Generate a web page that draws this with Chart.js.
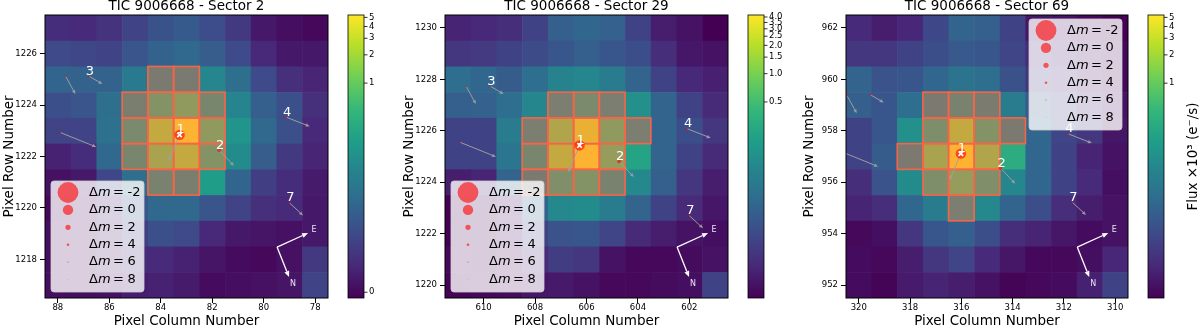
<!DOCTYPE html>
<html lang="en">
<head>
<meta charset="UTF-8">
<title>TIC 9006668 - target pixel files</title>
<script src="https://cdn.jsdelivr.net/npm/chart.js"></script>
<style>
  body { margin: 0; background: #fff; }
  .wrap { position: relative; width: 1200px; height: 327px; }
  canvas { position: absolute; top: 0; }
</style>
</head>
<body>
<div class="wrap">
  <canvas id="s2" width="400" height="327" style="left:0"></canvas>
  <canvas id="s29" width="400" height="327" style="left:400px"></canvas>
  <canvas id="s69" width="400" height="327" style="left:800px"></canvas>
</div>
<script>
// ---- Sector 2 (flux in 10^3 e-/s, rows top to bottom, columns left to right)
const s2Cols = [88, 87, 86, 85, 84, 83, 82, 81, 80, 79, 78];
const s2Rows = [1227, 1226, 1225, 1224, 1223, 1222, 1221, 1220, 1219, 1218, 1217];
const s2Flux = [
  [0.0068, 0.0060, 0.0086, 0.0158, 0.0245, 0.0314, 0.0207, 0.0107, 0.0022, 0.0008, 0.0000],
  [0.0189, 0.0173, 0.0158, 0.0267, 0.0398, 0.0465, 0.0340, 0.0189, 0.0053, 0.0022, 0.0022],
  [0.0430, 0.0398, 0.0398, 0.0848, 0.1310, 0.1310, 0.1220, 0.0583, 0.0189, 0.0077, 0.0046],
  [0.0225, 0.0267, 0.0583, 0.1620, 0.4670, 0.6620, 0.2320, 0.1130, 0.0368, 0.0225, 0.0077],
  [0.0158, 0.0158, 0.0631, 0.2860, 1.8800, 5.2000, 0.6620, 0.1870, 0.0465, 0.0225, 0.0053],
  [0.0039, 0.0068, 0.0465, 0.2320, 1.1600, 1.8800, 0.4670, 0.1400, 0.0340, 0.0107, 0.0046],
  [0.0012, 0.0022, 0.0173, 0.0583, 0.1870, 0.1620, 0.2320, 0.0430, 0.0131, 0.0068, 0.0027],
  [0.0000, 0.0008, 0.0046, 0.0289, 0.0465, 0.0465, 0.0267, 0.0158, 0.0077, 0.0060, 0.0022],
  [0.0008, 0.0004, 0.0027, 0.0131, 0.0225, 0.0189, 0.0053, 0.0022, 0.0017, 0.0012, 0.0022],
  [0.0008, 0.0008, 0.0027, 0.0068, 0.0060, 0.0039, 0.0017, 0.0004, 0.0000, 0.0012, 0.0107],
  [0.0008, 0.0008, 0.0012, 0.0033, 0.0039, 0.0027, 0.0004, 0.0008, 0.0012, 0.0017, 0.0158]
];
const s2Aperture = [[84, 1225], [83, 1225], [85, 1224], [84, 1224], [83, 1224], [82, 1224],
  [85, 1223], [84, 1223], [83, 1223], [82, 1223], [85, 1222], [84, 1222], [83, 1222], [82, 1222],
  [84, 1221], [83, 1221]];
const s2StarCol = [83.27, 81.73, 86.79, 87.70, 87.90, 79.13, 79.00];
const s2StarRow = [1222.84, 1222.25, 1225.12, 1225.12, 1222.93, 1223.53, 1220.20];
const s2StarName = ['1', '2', '3', '', '', '4', '7'];
const s2CbTicks = [0, 1, 2, 3, 4, 5];

// ---- Sector 29
const s29Cols = [611, 610, 609, 608, 607, 606, 605, 604, 603, 602, 601];
const s29Rows = [1230, 1229, 1228, 1227, 1226, 1225, 1224, 1223, 1222, 1221, 1220];
const s29Flux = [
  [0.0052, 0.0058, 0.0071, 0.0135, 0.0301, 0.0378, 0.0325, 0.0135, 0.0041, 0.0027, 0.0010],
  [0.0095, 0.0104, 0.0135, 0.0174, 0.0239, 0.0301, 0.0239, 0.0189, 0.0071, 0.0032, 0.0027],
  [0.0472, 0.0378, 0.0279, 0.0472, 0.0909, 0.0976, 0.0732, 0.0351, 0.0135, 0.0058, 0.0046],
  [0.0301, 0.0325, 0.0472, 0.0976, 0.1295, 0.2278, 0.1295, 0.1295, 0.0351, 0.0135, 0.0064],
  [0.0135, 0.0135, 0.0732, 0.1295, 1.0520, 2.9700, 0.5256, 0.1295, 0.0351, 0.0189, 0.0095],
  [0.0135, 0.0135, 0.0590, 0.1845, 1.4870, 4.2000, 0.6037, 0.2278, 0.0351, 0.0135, 0.0064],
  [0.0041, 0.0052, 0.0351, 0.1047, 0.3009, 0.3700, 0.1493, 0.1047, 0.0301, 0.0095, 0.0041],
  [0.0010, 0.0013, 0.0032, 0.0351, 0.1047, 0.1123, 0.0732, 0.0351, 0.0135, 0.0064, 0.0032],
  [0.0010, 0.0010, 0.0027, 0.0135, 0.0221, 0.0239, 0.0147, 0.0064, 0.0041, 0.0027, 0.0023],
  [0.0016, 0.0013, 0.0020, 0.0064, 0.0114, 0.0095, 0.0027, 0.0016, 0.0016, 0.0020, 0.0027],
  [0.0013, 0.0016, 0.0020, 0.0032, 0.0036, 0.0027, 0.0016, 0.0016, 0.0020, 0.0023, 0.0135]
];
const s29Aperture = [[607, 1227], [606, 1227], [605, 1227], [608, 1226], [607, 1226], [606, 1226],
  [605, 1226], [604, 1226], [608, 1225], [607, 1225], [606, 1225], [605, 1225],
  [608, 1224], [607, 1224], [606, 1224], [605, 1224]];
const s29StarCol = [606.27, 604.73, 609.74, 610.68, 610.91, 602.09, 602.00];
const s29StarRow = [1225.43, 1224.81, 1227.73, 1227.73, 1225.55, 1226.08, 1222.70];
const s29StarName = ['1', '2', '3', '', '', '4', '7'];
const s29CbTicks = [0.5, 1.0, 1.5, 2.0, 2.5, 3.0, 3.5, 4.0];

// ---- Sector 69
const s69Cols = [320, 319, 318, 317, 316, 315, 314, 313, 312, 311, 310];
const s69Rows = [962, 961, 960, 959, 958, 957, 956, 955, 954, 953, 952];
const s69Flux = [
  [0.0078, 0.0049, 0.0070, 0.0199, 0.0440, 0.0378, 0.0168, 0.0037, 0.0032, 0.0018, 0.0010],
  [0.0117, 0.0117, 0.0168, 0.0235, 0.0324, 0.0299, 0.0183, 0.0078, 0.0049, 0.0027, 0.0018],
  [0.0440, 0.0277, 0.0299, 0.0475, 0.0688, 0.0593, 0.0255, 0.0117, 0.0078, 0.0037, 0.0018],
  [0.0378, 0.0299, 0.0593, 0.1320, 0.1880, 0.1410, 0.0922, 0.0324, 0.0168, 0.0063, 0.0032],
  [0.0168, 0.0299, 0.1630, 0.3300, 1.8800, 0.4680, 0.1320, 0.0475, 0.0183, 0.0117, 0.0037],
  [0.0168, 0.0350, 0.1320, 1.1570, 5.3000, 1.3270, 0.3790, 0.0475, 0.0168, 0.0063, 0.0032],
  [0.0087, 0.0277, 0.1410, 0.3300, 0.7620, 0.3790, 0.1230, 0.0475, 0.0168, 0.0078, 0.0027],
  [0.0063, 0.0087, 0.0475, 0.0922, 0.1630, 0.1320, 0.0440, 0.0235, 0.0087, 0.0049, 0.0032],
  [0.0018, 0.0027, 0.0117, 0.0299, 0.0378, 0.0235, 0.0087, 0.0063, 0.0037, 0.0022, 0.0032],
  [0.0022, 0.0018, 0.0049, 0.0117, 0.0183, 0.0078, 0.0037, 0.0018, 0.0018, 0.0027, 0.0070],
  [0.0022, 0.0014, 0.0043, 0.0063, 0.0049, 0.0032, 0.0014, 0.0018, 0.0022, 0.0056, 0.0168]
];
const s69Aperture = [[317, 959], [316, 959], [315, 959], [317, 958], [316, 958], [315, 958], [314, 958],
  [318, 957], [317, 957], [316, 957], [315, 957], [317, 956], [316, 956], [315, 956], [316, 955]];
const s69StarCol = [316.02, 314.47, 319.55, 320.46, 320.64, 311.83, 311.67];
const s69StarRow = [957.11, 956.55, 959.40, 959.37, 957.17, 957.88, 955.22];
const s69StarName = ['1', '2', '', '', '', '4', '7'];
const s69CbTicks = [1, 2, 3, 4, 5];

// ---- Gaia neighbours, same order in every sector
const starDm = [0, 2.8, 4.6, 4.6, 5.5, 4.6, 5.0];
const pmCol = [0.44, -0.57, -0.52, -0.38, -1.39, -0.92, -0.53];
const pmRow = [-1.03, -0.61, -0.30, -0.69, -0.56, -0.36, -0.49];
const legendDm = [-2, 0, 2, 4, 6, 8];

Chart.defaults.font.family = '"DejaVu Sans", sans-serif';
Chart.defaults.color = '#000';

const VIRIDIS = ['#440154', '#482878', '#3e4989', '#31688e', '#26828e',
  '#1f9e89', '#35b779', '#6ece58', '#b5de2b', '#fde725'].map(h =>
  [1, 3, 5].map(i => parseInt(h.substr(i, 2), 16)));

function viridis(t) {
  t = Math.min(1, Math.max(0, t)) * (VIRIDIS.length - 1);
  const i = Math.min(Math.floor(t), VIRIDIS.length - 2), f = t - i;
  const c = VIRIDIS[i].map((v, k) => Math.round(v + (VIRIDIS[i + 1][k] - v) * f));
  return `rgb(${c[0]},${c[1]},${c[2]})`;
}

// astropy LogStretch (a = 1000)
function stretch(v, p) {
  const x = Math.min(1, Math.max(0, (v - p.vmin) / (p.vmax - p.vmin)));
  return Math.log(1000 * x + 1) / Math.log(1001);
}

function markerRadius(dm) { return 5.2 * Math.pow(2, -dm / 2); }

function arrow(ctx, x1, y1, x2, y2, color, lw, hl, hw) {
  const ang = Math.atan2(y2 - y1, x2 - x1);
  const bx = x2 - hl * Math.cos(ang), by = y2 - hl * Math.sin(ang);
  ctx.strokeStyle = color; ctx.fillStyle = color; ctx.lineWidth = lw;
  ctx.beginPath(); ctx.moveTo(x1, y1); ctx.lineTo(bx, by); ctx.stroke();
  ctx.beginPath(); ctx.moveTo(x2, y2);
  ctx.lineTo(bx + hw / 2 * Math.sin(ang), by - hw / 2 * Math.cos(ang));
  ctx.lineTo(bx - hw / 2 * Math.sin(ang), by + hw / 2 * Math.cos(ang));
  ctx.closePath(); ctx.fill();
}

function drawLegend(ctx, a, corner) {
  const w = 93, h = 111;
  const left = corner === 'upper right' ? a.right - 6 - w : a.left + 6;
  const top = corner === 'upper right' ? a.top + 4 : a.bottom - 6 - h;
  ctx.beginPath(); ctx.roundRect(left, top, w, h, 3);
  ctx.fillStyle = 'rgba(255,255,255,0.8)'; ctx.fill();
  ctx.strokeStyle = 'rgba(204,204,204,0.8)'; ctx.lineWidth = 1; ctx.stroke();
  ctx.textBaseline = 'middle'; ctx.textAlign = 'left';
  legendDm.forEach((dm, k) => {
    const cy = top + 11.5 + k * 17.4;
    ctx.beginPath(); ctx.arc(left + 17, cy, markerRadius(dm), 0, 2 * Math.PI);
    ctx.fillStyle = 'rgba(255,0,0,0.6)'; ctx.fill();
    ctx.fillStyle = '#000';
    let tx = left + 38;
    ctx.font = '13px "DejaVu Sans"'; ctx.fillText('Δ', tx, cy); tx += ctx.measureText('Δ').width;
    ctx.font = 'italic 13px "DejaVu Sans"'; ctx.fillText('m', tx, cy); tx += ctx.measureText('m').width;
    ctx.font = '13px "DejaVu Sans"'; ctx.fillText('=', tx + 2.5, cy);
    ctx.fillText(String(dm), left + 38 + 38.5, cy);
  });
}

function drawColorbar(ctx, a, p) {
  const x0 = a.right + 20, w = 16, top = a.top, bot = a.bottom, h = bot - top;
  for (let yy = 0; yy < h; yy++) {
    ctx.fillStyle = viridis(1 - (yy + 0.5) / h);
    ctx.fillRect(x0, top + yy, w, 1);
  }
  ctx.strokeStyle = '#000'; ctx.lineWidth = 0.8; ctx.strokeRect(x0, top, w, h);
  ctx.font = '8.5px "DejaVu Sans"'; ctx.fillStyle = '#000';
  ctx.textBaseline = 'middle'; ctx.textAlign = 'left';
  p.cbTicks.forEach(v => {
    const ty = bot - stretch(v, p) * h;
    ctx.beginPath(); ctx.moveTo(x0 + w, ty); ctx.lineTo(x0 + w + 3.5, ty); ctx.stroke();
    ctx.fillText(v.toFixed(p.cbDigits), x0 + w + 5, ty);
  });
  if (p.cbLabel) {
    ctx.save();
    ctx.translate(a.right + 65, (top + bot) / 2);
    ctx.rotate(-Math.PI / 2);
    ctx.font = '13.5px "DejaVu Sans"'; ctx.textAlign = 'center';
    ctx.fillText(p.cbLabel, 0, 0);
    ctx.restore();
  }
}

function tpfPlugin(p) {
  return {
    id: 'tpf',
    beforeDatasetsDraw(chart) {
      const {ctx, chartArea: a, scales: {x, y}} = chart;
      ctx.save();
      ctx.beginPath(); ctx.rect(a.left, a.top, a.width, a.height); ctx.clip();
      const cell = (c, r) => {
        const x1 = x.getPixelForValue(c + 0.5), x2 = x.getPixelForValue(c - 0.5);
        const y1 = y.getPixelForValue(r + 0.5), y2 = y.getPixelForValue(r - 0.5);
        return [x1, y1, x2 - x1, y2 - y1];
      };
      p.rows.forEach((r, i) => p.cols.forEach((c, j) => {
        const [cx, cy, cw, ch] = cell(c, r);
        ctx.fillStyle = viridis(stretch(p.flux[i][j], p));
        ctx.fillRect(cx, cy, cw + 0.6, ch + 0.6);
      }));
      // aperture mask
      ctx.fillStyle = 'rgba(255,99,71,0.4)';
      p.aperture.forEach(([c, r]) => { const b = cell(c, r); ctx.fillRect(b[0], b[1], b[2], b[3]); });
      ctx.strokeStyle = 'rgb(250,100,70)'; ctx.lineWidth = 1.6;
      p.aperture.forEach(([c, r]) => { const b = cell(c, r); ctx.strokeRect(b[0], b[1], b[2], b[3]); });
      // proper motion arrows
      p.starCol.forEach((c, k) => {
        arrow(ctx, x.getPixelForValue(c), y.getPixelForValue(p.starRow[k]),
          x.getPixelForValue(c + pmCol[k]), y.getPixelForValue(p.starRow[k] + pmRow[k]),
          'rgba(160,160,160,0.95)', 1, 4, 3.5);
      });
      ctx.restore();
    },
    afterDatasetsDraw(chart) {
      const {ctx, chartArea: a, scales: {x, y}} = chart;
      ctx.save();
      // compass
      const ox = a.left + 0.82 * a.width, oy = a.bottom - 0.18 * a.height;
      arrow(ctx, ox, oy, ox + 31, oy - 14, '#fff', 1.3, 6, 5);
      arrow(ctx, ox, oy, ox + 12, oy + 30, '#fff', 1.3, 6, 5);
      ctx.font = '8px "DejaVu Sans"'; ctx.fillStyle = '#ece4f4';
      ctx.textAlign = 'center'; ctx.textBaseline = 'middle';
      ctx.fillText('E', ox + 37, oy - 17);
      ctx.fillText('N', ox + 16, oy + 37);
      drawLegend(ctx, a, p.legendAt);
      // star labels
      ctx.font = '13px "DejaVu Sans"'; ctx.fillStyle = '#fff';
      ctx.textAlign = 'center'; ctx.textBaseline = 'alphabetic';
      p.starName.forEach((n, k) => {
        if (n) ctx.fillText(n, x.getPixelForValue(p.starCol[k]) + 1, y.getPixelForValue(p.starRow[k]) - 1.5);
      });
      // frame
      ctx.strokeStyle = '#000'; ctx.lineWidth = 1;
      ctx.strokeRect(a.left, a.top, a.width, a.height);
      drawColorbar(ctx, a, p);
      ctx.restore();
    }
  };
}

function makePanel(p) {
  const axisGrid = {drawOnChartArea: false, drawTicks: true, tickLength: 5, color: '#000', lineWidth: 1};
  return new Chart(document.getElementById(p.id), {
    type: 'bubble',
    data: {
      datasets: [
        {
          type: 'scatter',
          data: [{x: p.starCol[0], y: p.starRow[0]}],
          pointStyle: 'crossRot', pointRadius: 3.2,
          borderColor: '#fff', backgroundColor: '#fff', borderWidth: 1.6
        },
        {
          data: p.starCol.map((c, k) => ({x: c, y: p.starRow[k], r: markerRadius(starDm[k])})),
          backgroundColor: 'rgba(255,0,0,0.6)', borderWidth: 0
        }
      ]
    },
    options: {
      responsive: false,
      animation: false,
      events: [],
      layout: {padding: {left: 0, right: 72, top: 0, bottom: 0}},
      plugins: {
        legend: {display: false},
        tooltip: {enabled: false},
        title: {
          display: true, text: p.title, color: '#000', fullSize: false,
          font: {size: 13.5, weight: 'normal', lineHeight: 1},
          padding: {top: 0, bottom: 1.5}
        }
      },
      scales: {
        x: {
          type: 'linear', reverse: true,
          min: Math.min(...p.cols) - 0.5, max: Math.max(...p.cols) + 0.5,
          afterFit: s => { s.height = 29; },
          ticks: {stepSize: 2, includeBounds: false, font: {size: 8.5}, color: '#000', padding: 0,
            maxRotation: 0, callback: v => String(v)},
          grid: axisGrid,
          border: {display: false},
          title: {display: true, text: 'Pixel Column Number', color: '#000',
            font: {size: 13.5, lineHeight: 0.75}, padding: 0}
        },
        y: {
          type: 'linear',
          min: Math.min(...p.rows) - 0.5, max: Math.max(...p.rows) + 0.5,
          afterFit: s => { s.width = p.yWidth; },
          ticks: {stepSize: 2, includeBounds: false, font: {size: 8.5}, color: '#000', padding: 3,
            callback: v => String(v)},
          grid: axisGrid,
          border: {display: false},
          title: {display: true, text: 'Pixel Row Number', color: '#000',
            font: {size: 13.5, lineHeight: 1.2}, padding: {top: 1, bottom: 0}}
        }
      }
    },
    plugins: [tpfPlugin(p)]
  });
}

makePanel({id: 's2', title: 'TIC 9006668 - Sector 2', cols: s2Cols, rows: s2Rows, flux: s2Flux,
  aperture: s2Aperture, starCol: s2StarCol, starRow: s2StarRow, starName: s2StarName,
  vmin: -0.0008, vmax: 5.3, cbTicks: s2CbTicks, cbDigits: 0, legendAt: 'lower left', cbLabel: '', yWidth: 45});
makePanel({id: 's29', title: 'TIC 9006668 - Sector 29', cols: s29Cols, rows: s29Rows, flux: s29Flux,
  aperture: s29Aperture, starCol: s29StarCol, starRow: s29StarRow, starName: s29StarName,
  vmin: 0.001, vmax: 4.2, cbTicks: s29CbTicks, cbDigits: 1, legendAt: 'lower left', cbLabel: '', yWidth: 45});
makePanel({id: 's69', title: 'TIC 9006668 - Sector 69', cols: s69Cols, rows: s69Rows, flux: s69Flux,
  aperture: s69Aperture, starCol: s69StarCol, starRow: s69StarRow, starName: s69StarName,
  vmin: 0.001, vmax: 5.3, cbTicks: s69CbTicks, cbDigits: 0, legendAt: 'upper right',
  cbLabel: 'Flux ×10³ (e⁻/s)', yWidth: 46});
</script>
</body>
</html>
